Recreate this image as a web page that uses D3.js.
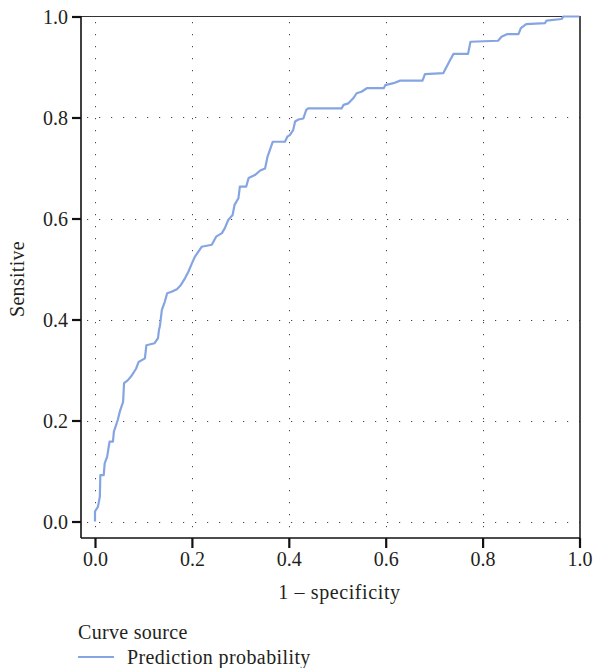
<!DOCTYPE html>
<html>
<head>
<meta charset="utf-8">
<script src="https://cdn.jsdelivr.net/npm/d3@7"></script>
<style>
  body { margin: 0; background: #fff; }
  svg text { font-family: "Liberation Serif", "DejaVu Serif", serif; fill: #231f20; }
</style>
</head>
<body>
<div id="chart"></div>
<script>
// ROC curve (1 - specificity, sensitivity)
var fpr = [0.000,0.000,0.006,0.010,0.011,0.018,0.020,0.025,0.030,0.037,0.039,0.047,0.051,0.058,0.060,0.068,0.075,0.085,0.090,0.103,0.106,0.123,0.130,0.132,0.134,0.138,0.144,0.149,0.158,0.169,0.177,0.186,0.193,0.200,0.206,0.213,0.220,0.241,0.250,0.262,0.268,0.275,0.284,0.288,0.296,0.299,0.312,0.317,0.330,0.341,0.351,0.356,0.361,0.367,0.392,0.397,0.402,0.409,0.413,0.420,0.430,0.436,0.440,0.509,0.513,0.523,0.533,0.540,0.550,0.561,0.596,0.599,0.616,0.630,0.676,0.681,0.719,0.726,0.733,0.740,0.770,0.775,0.832,0.839,0.850,0.874,0.879,0.890,0.929,0.932,0.963,0.967,1.000];
var tpr = [0.000,0.020,0.029,0.049,0.092,0.092,0.115,0.128,0.158,0.158,0.178,0.201,0.217,0.237,0.274,0.280,0.288,0.303,0.316,0.323,0.349,0.353,0.363,0.379,0.387,0.419,0.435,0.452,0.455,0.460,0.468,0.482,0.495,0.511,0.524,0.534,0.544,0.548,0.564,0.571,0.581,0.597,0.607,0.627,0.640,0.663,0.663,0.680,0.686,0.695,0.699,0.722,0.736,0.752,0.752,0.762,0.765,0.775,0.792,0.796,0.798,0.815,0.818,0.818,0.825,0.828,0.838,0.848,0.851,0.858,0.858,0.864,0.868,0.873,0.873,0.886,0.888,0.901,0.914,0.926,0.926,0.950,0.952,0.960,0.965,0.965,0.977,0.985,0.987,0.992,0.995,1.000,1.000];
var tickValues = [0, 0.2, 0.4, 0.6, 0.8, 1.0];
var gridValues = [0, 0.2, 0.4, 0.6, 0.8];
var xTitle = "1 \u2013 specificity";
var yTitle = "Sensitive";
var legendTitle = "Curve source";
var seriesName = "Prediction probability";

var width = 594, height = 668;
var box = {left: 81, right: 580, top: 16, bottom: 538};
var lineColor = "#85a5e2";
var fontSize = 20;

var svg = d3.select("#chart").append("svg")
	.attr("width", width)
	.attr("height", height);

var x = d3.scaleLinear().domain([0, 1]).range([95, 579.5]);
var y = d3.scaleLinear().domain([0, 1]).range([521.5, 16.5]);

// dotted grid
svg.append("g").selectAll("line.vg")
	.data(gridValues)
	.enter().append("line")
		.attr("x1", d => Math.round(x(d)) + 0.5).attr("x2", d => Math.round(x(d)) + 0.5)
		.attr("y1", box.top + 6).attr("y2", box.bottom)
		.attr("stroke", "#444")
		.attr("stroke-width", 1)
		.attr("stroke-dasharray", "1.2,10.8");
svg.append("g").selectAll("line.hg")
	.data(gridValues)
	.enter().append("line")
		.attr("y1", d => Math.round(y(d)) + 0.5).attr("y2", d => Math.round(y(d)) + 0.5)
		.attr("x1", box.left + 6).attr("x2", box.right)
		.attr("stroke", "#444")
		.attr("stroke-width", 1)
		.attr("stroke-dasharray", "1.2,10.8");

// frame
svg.append("line").attr("x1", box.left).attr("x2", box.right).attr("y1", box.top + 0.5).attr("y2", box.top + 0.5)
	.attr("stroke", "#333").attr("stroke-width", 1.2);
svg.append("line").attr("x1", box.right).attr("x2", box.right).attr("y1", box.top).attr("y2", box.bottom)
	.attr("stroke", "#222").attr("stroke-width", 1.6);

// axes
var xAxis = d3.axisBottom(x).tickValues(tickValues).tickFormat(d3.format(".1f")).tickSize(10).tickSizeOuter(0);
var yAxis = d3.axisLeft(y).tickValues(tickValues).tickFormat(d3.format(".1f")).tickSize(9).tickSizeOuter(0);

var gx = svg.append("g").attr("transform", "translate(0," + box.bottom + ")").call(xAxis);
gx.select(".domain").attr("d", "M" + box.left + ",0H" + box.right);
var gy = svg.append("g").attr("transform", "translate(" + box.left + ",0)").call(yAxis);
gy.select(".domain").attr("d", "M0," + box.top + "V" + box.bottom);

[gx, gy].forEach(g => {
	g.select(".domain").attr("stroke", "#111").attr("stroke-width", 1.6);
	g.selectAll(".tick line").attr("stroke", "#111").attr("stroke-width", 2.2);
	g.selectAll(".tick text")
		.attr("font-family", "Liberation Serif, serif")
		.attr("font-size", fontSize)
		.attr("fill", "#231f20");
});
gx.selectAll(".tick text").attr("dy", null).attr("y", 28);
gy.selectAll(".tick text").attr("x", -13).attr("dy", "0.35em");

// curve
var pts = fpr.map((f, i) => [f, tpr[i]]);
svg.append("path")
	.datum(pts)
	.attr("fill", "none")
	.attr("stroke", lineColor)
	.attr("stroke-width", 2.2)
	.attr("stroke-linejoin", "round")
	.attr("d", d3.line().x(d => x(d[0])).y(d => y(d[1])));

// titles
svg.append("text")
	.attr("x", (box.left + box.right) / 2 + 9)
	.attr("y", 599)
	.attr("text-anchor", "middle")
	.attr("font-size", fontSize)
	.attr("letter-spacing", 0.6)
	.text(xTitle);
svg.append("text")
	.attr("transform", "translate(24,279) rotate(-90)")
	.attr("text-anchor", "middle")
	.attr("font-size", fontSize)
	.attr("letter-spacing", 0.3)
	.text(yTitle);

// legend
var legend = svg.append("g").attr("transform", "translate(78,0)");
legend.append("text").attr("x", 0).attr("y", 639).attr("font-size", fontSize).attr("letter-spacing", 0.3).text(legendTitle);
legend.append("line").attr("x1", 0).attr("x2", 36).attr("y1", 657).attr("y2", 657)
	.attr("stroke", lineColor).attr("stroke-width", 2);
legend.append("text").attr("x", 49).attr("y", 664).attr("font-size", fontSize).attr("letter-spacing", 0.4).text(seriesName);
</script>
</body>
</html>
